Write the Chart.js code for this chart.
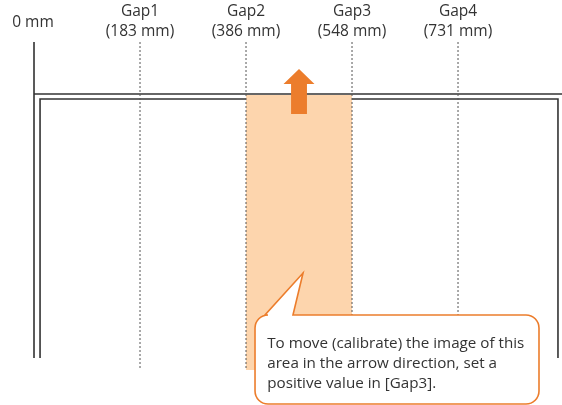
<!DOCTYPE html>
<html>
<head>
<meta charset="utf-8">
<script src="https://cdn.jsdelivr.net/npm/chart.js@4.4.1/dist/chart.umd.min.js"></script>
<style>
  html, body { margin: 0; padding: 0; background: #fff; }
  #wrap { width: 562px; height: 405px; }
</style>
</head>
<body>
<div id="wrap"><canvas id="chart"></canvas></div>
<script>
/* ── data ── */
const gapNames     = ['', 'Gap1', 'Gap2', 'Gap3', 'Gap4'];
const gapDistances = [0, 183, 386, 548, 731];   // mm
const gapIndex     = [0, 1, 2, 3, 4];            // drawn evenly spaced
const bandFrom = 2, bandTo = 3;                  // Gap2 → Gap3
const calloutLines = [
  'To move (calibrate) the image of this',
  'area in the arrow direction, set a',
  'positive value in [Gap3].'
];

/* ── layout in chart units (y grows downward) ── */
const Y = { guideTop: 42, frameTop: 94, innerTop: 99, frameBottom: 358, guideBottom: 370 };
const INNER_LEFT = 0.057, INNER_RIGHT = 4.943;

const INK = '#333333';
const ORANGE = '#ec7d2c';
const PEACH = '#fdd5ad';

// lower "order" is drawn on top
function seg(points, opts) {
  return Object.assign({
    data: points.map(p => ({ x: p[0], y: p[1] })),
    showLine: true, pointRadius: 0, borderWidth: 1.6, borderColor: INK,
    fill: false, tension: 0, order: 5
  }, opts || {});
}

const mid = (bandFrom + bandTo) / 2;
const arrow = [
  [mid, 69], [mid + 0.146, 84], [mid + 0.075, 84], [mid + 0.075, 114],
  [mid - 0.075, 114], [mid - 0.075, 84], [mid - 0.146, 84], [mid, 69]
];
const band = [
  [bandFrom, Y.frameTop + 1], [bandTo, Y.frameTop + 1],
  [bandTo, Y.guideBottom], [bandFrom, Y.guideBottom], [bandFrom, Y.frameTop + 1]
];

const datasets = [
  // outer frame
  seg([[0, Y.guideTop], [0, Y.frameBottom]]),
  seg([[0, Y.frameTop], [5, Y.frameTop]]),
  // inner frame
  seg([[INNER_LEFT, Y.frameBottom], [INNER_LEFT, Y.innerTop], [INNER_RIGHT, Y.innerTop], [INNER_RIGHT, Y.frameBottom]]),
  // highlighted band
  seg(band, { borderWidth: 0, borderColor: PEACH, backgroundColor: PEACH, fill: 'shape', order: 4 }),
  // arrow
  seg(arrow, { borderWidth: 0, borderColor: ORANGE, backgroundColor: ORANGE, fill: 'shape', order: 1 })
];
// dotted gap guides
gapIndex.slice(1).forEach(i => {
  datasets.push(seg([[i, Y.guideTop], [i, Y.guideBottom]], {
    borderWidth: 1, borderColor: '#555', borderDash: [2, 2], order: 3
  }));
});

/* ── labels + callout ── */
const labelPlugin = {
  id: 'labels',
  afterDatasetsDraw(chart) {
    const { ctx, scales: { x, y } } = chart;
    ctx.save();
    ctx.fillStyle = INK;
    ctx.font = '15.5px "Open Sans", sans-serif';
    ctx.textAlign = 'center';
    ctx.textBaseline = 'middle';
    ctx.fillText(gapDistances[0] + ' mm', x.getPixelForValue(0) - 1, y.getPixelForValue(23));
    gapIndex.slice(1).forEach(i => {
      const px = x.getPixelForValue(i);
      ctx.fillText(gapNames[i], px, y.getPixelForValue(12));
      ctx.fillText('(' + gapDistances[i] + ' mm)', px, y.getPixelForValue(32));
    });

    // callout bubble
    const l = x.getPixelForValue(2.085), r = x.getPixelForValue(4.764);
    const t = y.getPixelForValue(315), b = y.getPixelForValue(404);
    const p1 = x.getPixelForValue(2.179), p2 = x.getPixelForValue(2.443);
    const tipX = x.getPixelForValue(2.538), tipY = y.getPixelForValue(273);
    const rad = 13;
    ctx.beginPath();
    ctx.moveTo(l + rad, t);
    ctx.lineTo(p1, t);
    ctx.lineTo(tipX, tipY);
    ctx.lineTo(p2, t);
    ctx.lineTo(r - rad, t);
    ctx.arcTo(r, t, r, t + rad, rad);
    ctx.lineTo(r, b - rad);
    ctx.arcTo(r, b, r - rad, b, rad);
    ctx.lineTo(l + rad, b);
    ctx.arcTo(l, b, l, b - rad, rad);
    ctx.lineTo(l, t + rad);
    ctx.arcTo(l, t, l + rad, t, rad);
    ctx.closePath();
    ctx.fillStyle = '#fff';
    ctx.fill();
    ctx.lineWidth = 1.6;
    ctx.strokeStyle = ORANGE;
    ctx.stroke();

    ctx.fillStyle = INK;
    ctx.font = '15.2px "Open Sans", sans-serif';
    ctx.textAlign = 'left';
    ctx.textBaseline = 'alphabetic';
    calloutLines.forEach((line, k) => {
      ctx.fillText(line, x.getPixelForValue(2.2), y.getPixelForValue(348 + k * 20));
    });
    ctx.restore();
  }
};

new Chart(document.getElementById('chart'), {
  type: 'line',
  data: { datasets },
  options: {
    responsive: true,
    maintainAspectRatio: false,
    animation: false,
    layout: { padding: 0 },
    plugins: { legend: { display: false }, tooltip: { enabled: false } },
    scales: {
      x: { type: 'linear', display: false, min: -0.3208, max: 4.981 },
      y: { type: 'linear', display: false, min: 0, max: 405, reverse: true }
    }
  },
  plugins: [labelPlugin]
});
</script>
</body>
</html>
